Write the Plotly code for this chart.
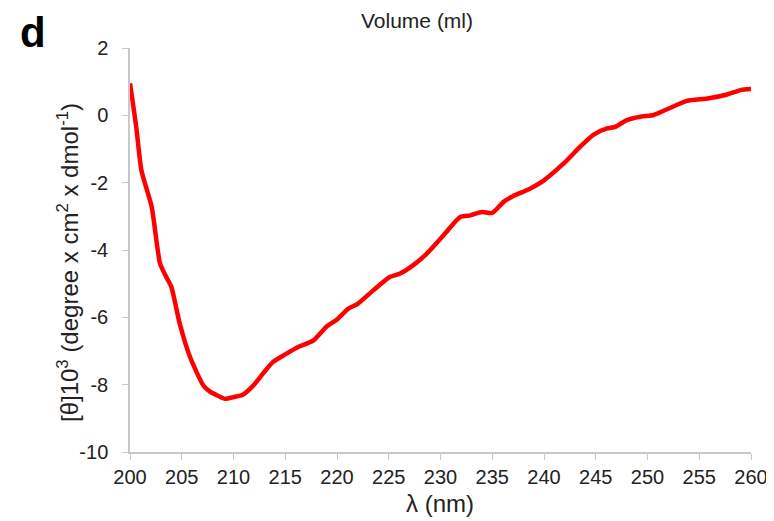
import plotly.graph_objects as go

wavelength = [200.0, 200.6, 201.1, 202.1, 202.9, 203.5, 204.0, 204.8, 205.8, 207.1, 207.7, 208.5, 209.2,
              210.0, 210.9, 211.9, 212.9, 213.8, 215.0, 216.4, 217.7, 219.0, 219.9, 221.1, 222.0,
              223.5, 225.1, 226.1, 227.5, 228.7, 230.3, 231.9, 232.9, 234.0, 235.0, 236.1, 237.0,
              238.0, 239.0, 240.0, 241.9, 243.5, 244.8, 246.1, 246.9, 248.0, 249.3, 250.6, 251.9,
              253.8, 255.8, 257.7, 259.0, 260.0]
ellipticity = [0.95, -0.34, -1.63, -2.72, -4.4, -4.8, -5.1, -6.18, -7.18, -8.03, -8.2, -8.33, -8.42,
               -8.37, -8.3, -8.03, -7.65, -7.33, -7.1, -6.86, -6.69, -6.27, -6.09, -5.74, -5.6,
               -5.2, -4.8, -4.7, -4.42, -4.1, -3.56, -3.02, -2.97, -2.87, -2.9, -2.57, -2.4,
               -2.27, -2.12, -1.93, -1.43, -0.93, -0.57, -0.39, -0.34, -0.14, -0.04, 0.01, 0.18,
               0.43, 0.5, 0.62, 0.75, 0.78]

x_ticks = list(range(200, 261, 5))
y_ticks = list(range(-10, 3, 2))
y_ticklabels = [str(v) for v in y_ticks]  # plain hyphen minus, as in the reference

font = "Liberation Sans, Arial, sans-serif"
txt = "#222222"
axis_grey = "#c8c8c8"

fig = go.Figure()
fig.add_trace(go.Scatter(x=wavelength, y=ellipticity, mode="lines",
                         line=dict(color="#ff0000", width=4.5, shape="spline", smoothing=0.6),
                         showlegend=False, hoverinfo="skip"))

fig.update_layout(
    width=766, height=513,
    margin=dict(l=122, r=23, t=40, b=69, autoexpand=False),
    paper_bgcolor="white", plot_bgcolor="white",
    font=dict(family=font, color=txt, size=20),
    xaxis=dict(range=[200, 260], tickvals=x_ticks, showgrid=False, zeroline=False,
               showline=True, linecolor=axis_grey, linewidth=1.5, ticks="outside",
               tickcolor=axis_grey, ticklen=6, tickfont=dict(size=20, color=txt),
               automargin=False),
    yaxis=dict(range=[-10, 2], tickvals=y_ticks, ticktext=y_ticklabels, showgrid=False,
               zeroline=False, showline=True, linecolor=axis_grey, linewidth=1.5,
               ticks="outside", tickcolor=axis_grey, ticklen=6,
               tickfont=dict(size=20, color=txt), ticklabelstandoff=10, automargin=False),
    annotations=[
        dict(text="[θ]10<sup>3</sup> (degree x cm<sup>2</sup> x dmol<sup>-1</sup>)",
             xref="paper", yref="paper", x=-0.1, y=0.470, xanchor="center", yanchor="middle",
             textangle=-90, showarrow=False, font=dict(size=24, color=txt)),
        dict(text="λ (nm)", xref="paper", yref="paper", x=0.499, y=-0.1287,
             xanchor="center", yanchor="middle", showarrow=False,
             font=dict(size=24, color=txt)),
        dict(text="Volume (ml)", xref="paper", yref="paper", x=0.462, y=1.099,
             xanchor="center", yanchor="top", showarrow=False, borderpad=0,
             font=dict(size=21, color=txt)),
        dict(text="<b>d</b>", xref="paper", yref="paper", x=-0.179, y=1.099,
             xanchor="left", yanchor="top", showarrow=False, borderpad=0,
             font=dict(size=42, color="#000000")),
    ],
)

fig.write_html("out.html")
